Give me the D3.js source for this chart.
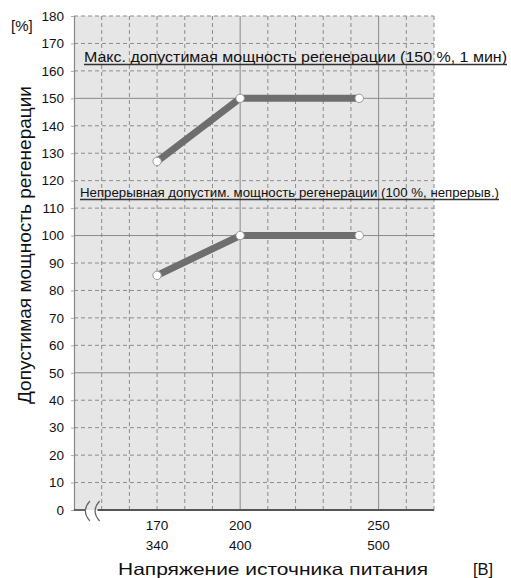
<!DOCTYPE html>
<html>
<head>
<meta charset="utf-8">
<script src="https://cdn.jsdelivr.net/npm/d3@7/dist/d3.min.js"></script>
<style>
  html, body { margin: 0; padding: 0; background: #fff; }
  svg { display: block; }
  text { font-family: "Liberation Sans", Arial, sans-serif; fill: #111; }
</style>
</head>
<body>
<svg id="chart" width="511" height="578"></svg>
<script>
// ---- data ----
const voltage = [170, 200, 243];
const maxRegen = [127, 150, 150];
const contRegen = [85.5, 100, 100];
const yTicks = [0,10,20,30,40,50,60,70,80,90,100,110,120,130,140,150,160,170,180];
const xTickValues = [170, 200, 250];
const xTickLabels1 = ["170", "200", "250"];
const xTickLabels2 = ["340", "400", "500"];
const labelMax = "Макс. допустимая мощность регенерации (150 %, 1 мин)";
const labelCont = "Непрерывная допустим. мощность регенерации (100 %, непрерыв.)";
const yTitle = "Допустимая мощность регенерации";
const xTitle = "Напряжение источника питания";
const xUnit = "[В]";
const yUnit = "[%]";

// ---- layout ----
const svg = d3.select("#chart");
const x = d3.scaleLinear().domain([140, 270]).range([74, 434]);
const y = d3.scaleLinear().domain([0, 180]).range([510, 16]);

// background
svg.append("rect")
  .attr("x", x(140)).attr("y", y(180))
  .attr("width", x(270) - x(140)).attr("height", y(0) - y(180))
  .attr("fill", "#e6e6e6");

const grid = svg.append("g");
// vertical grid
d3.range(150, 271, 10).forEach(v => {
  const solid = (v === 200 || v === 250);
  grid.append("line")
    .attr("x1", x(v)).attr("x2", x(v))
    .attr("y1", y(180)).attr("y2", y(0))
    .attr("stroke", solid ? "#8a8a8a" : "#8c8c8c")
    .attr("stroke-width", 1)
    .attr("stroke-dasharray", solid ? null : "4,3");
});
// horizontal grid
d3.range(10, 181, 10).forEach(v => {
  const solid = (v % 50 === 0);
  grid.append("line")
    .attr("x1", x(140)).attr("x2", x(270))
    .attr("y1", y(v)).attr("y2", y(v))
    .attr("stroke", solid ? "#8a8a8a" : "#8c8c8c")
    .attr("stroke-width", 1)
    .attr("stroke-dasharray", solid ? null : "4,3");
});

// y axis
const yAxis = d3.axisLeft(y).tickValues(yTicks).tickSize(3).tickPadding(7);
const gy = svg.append("g").attr("transform", `translate(${x(140)},0)`).call(yAxis);
gy.select(".domain").attr("stroke", "#888").attr("stroke-width", 1.2);
gy.selectAll(".tick line").attr("stroke", "#aaa");
gy.selectAll(".tick text")
  .attr("font-family", "'Liberation Sans', Arial, sans-serif")
  .attr("font-size", 13.5).attr("fill", "#222");

// x axis baseline with break
const gx = svg.append("g");
gx.append("line").attr("x1", x(140)).attr("x2", x(144)).attr("y1", y(0)).attr("y2", y(0))
  .attr("stroke", "#555").attr("stroke-width", 1.8);
gx.append("line").attr("x1", x(148.5)).attr("x2", x(270)).attr("y1", y(0)).attr("y2", y(0))
  .attr("stroke", "#555").attr("stroke-width", 1.8);
// break marks "(("
[x(144.3), x(147.8)].forEach(cx => {
  const p = d3.path();
  p.moveTo(cx + 4, y(0) - 9);
  p.quadraticCurveTo(cx - 5, y(0) + 1, cx + 4, y(0) + 11);
  gx.append("path").attr("d", p.toString()).attr("fill", "none")
    .attr("stroke", "#666").attr("stroke-width", 1.2);
});

// x tick labels
xTickValues.forEach((v, i) => {
  svg.append("text").attr("x", x(v)).attr("y", 530)
    .attr("text-anchor", "middle").attr("font-size", 13.5).attr("fill", "#222")
    .text(xTickLabels1[i]);
  svg.append("text").attr("x", x(v)).attr("y", 550)
    .attr("text-anchor", "middle").attr("font-size", 13.5).attr("fill", "#222")
    .text(xTickLabels2[i]);
});

// titles
svg.append("text").attr("x", 118).attr("y", 575)
  .attr("font-size", 16.5).attr("fill", "#111")
  .attr("textLength", 310).attr("lengthAdjust", "spacingAndGlyphs")
  .text(xTitle);
svg.append("text").attr("x", 473).attr("y", 575)
  .attr("font-size", 16.5).attr("fill", "#111")
  .text(xUnit);
svg.append("text")
  .attr("transform", "translate(31,245) rotate(-90)")
  .attr("text-anchor", "middle").attr("font-size", 17.5).attr("fill", "#111")
  .attr("textLength", 318).attr("lengthAdjust", "spacingAndGlyphs")
  .text(yTitle);
svg.append("text").attr("x", 11).attr("y", 31).attr("font-size", 15).attr("fill", "#111")
  .text(yUnit);

// annotations
function annotate(txt, x0, yb, w, fs, family) {
  const t = svg.append("text").attr("x", x0).attr("y", yb)
    .attr("font-size", fs).attr("fill", "#111")
    .attr("textLength", w).attr("lengthAdjust", "spacingAndGlyphs")
    .text(txt);
  if (family) t.style("font-family", family);
  svg.append("line").attr("x1", x0).attr("x2", x0 + w)
    .attr("y1", yb + 2.5).attr("y2", yb + 2.5)
    .attr("stroke", "#333").attr("stroke-width", 1.3);
}
annotate(labelMax, 84, 62, 423, 15);
annotate(labelCont, 80, 197, 419, 13.5, "'Liberation Sans Narrow', 'Liberation Sans', Arial, sans-serif");

// series lines
const line = d3.line().x((d, i) => x(voltage[i])).y(d => y(d));
[maxRegen, contRegen].forEach(series => {
  svg.append("path").datum(series).attr("d", line)
    .attr("fill", "none").attr("stroke", "#6e6e6e").attr("stroke-width", 7)
    .attr("stroke-linejoin", "round");
  svg.selectAll(null).data(series).enter().append("circle")
    .attr("cx", (d, i) => x(voltage[i])).attr("cy", d => y(d)).attr("r", 4.2)
    .attr("fill", "#fff").attr("stroke", "#999").attr("stroke-width", 1);
});
</script>
</body>
</html>
